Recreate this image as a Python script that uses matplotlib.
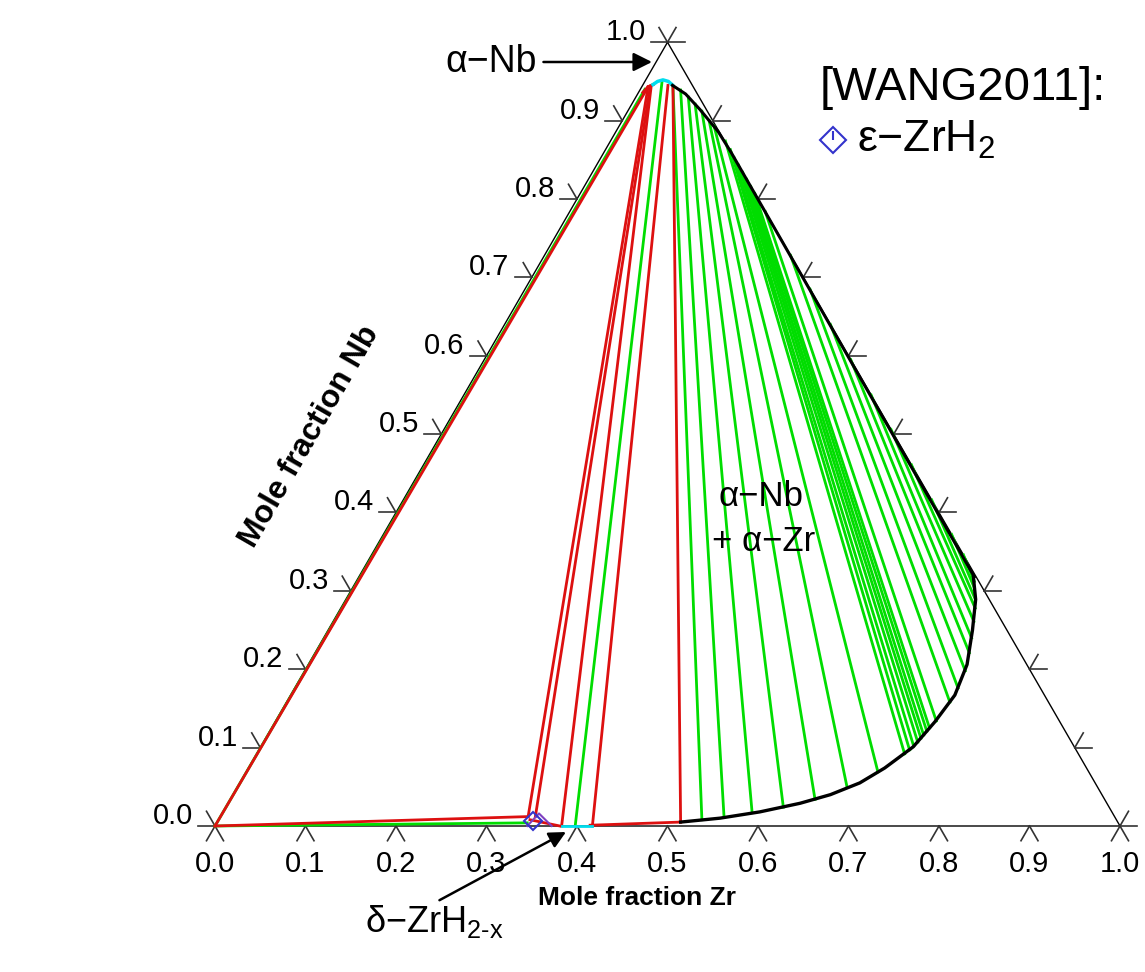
import numpy as np
import matplotlib.pyplot as plt

plt.rcParams['font.family'] = ['Liberation Sans', 'DejaVu Sans']
plt.rcParams['mathtext.fontset'] = 'custom'
plt.rcParams['mathtext.rm'] = 'Liberation Sans'
plt.rcParams['mathtext.it'] = 'Liberation Sans:italic'
plt.rcParams['mathtext.bf'] = 'Liberation Sans:bold'

S3 = np.sqrt(3) / 2

# ---- data (mole fraction Zr, mole fraction Nb) ----
ticks = [0.0, 0.1, 0.2, 0.3, 0.4, 0.5, 0.6, 0.7, 0.8, 0.9, 1.0]

# alpha-Nb corner
anb_red_zr = [0.005, 0.007, 0.011]
anb_red_nb = [0.936, 0.943, 0.946]
anb_cyan_zr = [0.011, 0.014, 0.019, 0.026, 0.032]
anb_cyan_nb = [0.946, 0.950, 0.952, 0.950, 0.946]
# alpha-Nb boundary (down to the Nb-Zr side)
anb_bnd_zr = [0.033, 0.053, 0.079, 0.113, 0.140, 0.680]
anb_bnd_nb = [0.945, 0.934, 0.914, 0.886, 0.860, 0.318]
# alpha-Zr boundary
azr_zr = [0.679, 0.696, 0.712, 0.728, 0.734, 0.729, 0.721, 0.703, 0.685,
          0.660, 0.632, 0.593, 0.553, 0.512]
azr_nb = [0.318, 0.289, 0.250, 0.206, 0.167, 0.133, 0.101, 0.074, 0.055,
          0.040, 0.029, 0.018, 0.010, 0.005]

# red tie lines (start -> end)
red_z0 = [0.007, 0.000, 0.007, 0.009, 0.010, 0.028, 0.034, 0.344, 0.414]
red_n0 = [0.943, 0.000, 0.943, 0.944, 0.944, 0.945, 0.944, 0.008, 0.001]
red_z1 = [0.000, 0.340, 0.340, 0.348, 0.383, 0.417, 0.512, 0.381, 0.512]
red_n1 = [0.000, 0.012, 0.012, 0.012, 0.000, 0.000, 0.005, 0.000, 0.005]

# green tie lines, three-phase side
grn_z0 = [0.005, 0.000, 0.019]
grn_n0 = [0.940, 0.000, 0.950]
grn_z1 = [0.000, 0.343, 0.398]
grn_n1 = [0.000, 0.004, 0.000]

# green tie lines alpha-Nb + alpha-Zr
fan_up_zr = [0.034, 0.045, 0.058, 0.070, 0.082, 0.096, 0.105, 0.127, 0.138,
             0.147, 0.157, 0.166, 0.175, 0.184, 0.193, 0.216, 0.272, 0.315,
             0.360, 0.405, 0.450, 0.494, 0.539, 0.584, 0.628, 0.654]
fan_up_nb = [0.944, 0.939, 0.930, 0.921, 0.912, 0.900, 0.893, 0.874, 0.863,
             0.853, 0.843, 0.834, 0.825, 0.816, 0.807, 0.784, 0.728, 0.685,
             0.640, 0.595, 0.550, 0.506, 0.461, 0.416, 0.372, 0.346]
fan_lo_zr = [0.534, 0.557, 0.585, 0.616, 0.646, 0.674, 0.698, 0.716, 0.719,
             0.721, 0.723, 0.724, 0.725, 0.726, 0.727, 0.730, 0.733, 0.733,
             0.730, 0.723, 0.716, 0.708, 0.701, 0.694, 0.687, 0.683]
fan_lo_nb = [0.008, 0.011, 0.017, 0.024, 0.034, 0.049, 0.069, 0.092, 0.097,
             0.102, 0.107, 0.112, 0.116, 0.121, 0.125, 0.134, 0.158, 0.176,
             0.198, 0.221, 0.240, 0.261, 0.278, 0.291, 0.304, 0.312]

cyan_bot_zr = [0.383, 0.417]
cyan_bot_nb = [0.0, 0.0]

# [WANG2011] eps-ZrH2 point and small triangle
eps_zr, eps_nb = [0.348], [0.006]
tri_zr = [0.345, 0.350, 0.372]
tri_nb = [0.000, 0.016, 0.000]

GREEN = '#00DD00'
RED = '#DD1010'
CYAN = '#00DDEE'
BLUE = '#3333CC'


def tern(zr, nb):
    zr = np.asarray(zr, float)
    nb = np.asarray(nb, float)
    return zr + nb / 2, nb * S3


def px(x, y):
    # figure pixel -> axes data (layout only)
    return (x - 215) / 905, (826 - y) / 905


fig = plt.figure(figsize=(11.45, 9.72), dpi=100)
ax = fig.add_axes([0, 0, 1, 1])
ax.set_xlim(-215 / 905, 930 / 905)
ax.set_ylim(-146 / 905, 826 / 905)
ax.axis('off')

# triangle frame
fx, fy = tern([0, 1, 0, 0], [0, 0, 1, 0])
ax.plot(fx, fy, color='black', lw=1.0, zorder=1)

# ticks
L = 17 / 905
def tick(p, angs):
    for a in angs:
        r = np.radians(a)
        ax.plot([p[0], p[0] + L * np.cos(r)], [p[1], p[1] + L * np.sin(r)],
                color='#333333', lw=1.2, zorder=1)

for t in ticks:
    tick(tern(t, 0), [240, 300])
    tick(tern(0, t), [180, 120])
    tick(tern(1 - t, t), [0, 60])
    bx, by = tern(t, 0)
    ax.text(bx, by - 46 / 905, f'{t:.1f}', ha='center', va='baseline', fontsize=21)
    lx, ly = tern(0, t)
    ax.text(lx - 22 / 905, ly + 2 / 905, f'{t:.1f}', ha='right', va='baseline', fontsize=21)

# tie lines
for z0, n0, z1, n1 in zip(fan_up_zr, fan_up_nb, fan_lo_zr, fan_lo_nb):
    x, y = tern([z0, z1], [n0, n1])
    ax.plot(x, y, color=GREEN, lw=2.0, zorder=2)
for z0, n0, z1, n1 in zip(grn_z0, grn_n0, grn_z1, grn_n1):
    x, y = tern([z0, z1], [n0, n1])
    ax.plot(x, y, color=GREEN, lw=2.0, zorder=2)
for z0, n0, z1, n1 in zip(red_z0, red_n0, red_z1, red_n1):
    x, y = tern([z0, z1], [n0, n1])
    ax.plot(x, y, color=RED, lw=2.0, zorder=3)

# phase boundaries
x, y = tern(anb_red_zr, anb_red_nb)
ax.plot(x, y, color=RED, lw=2.2, zorder=4)
x, y = tern(anb_cyan_zr, anb_cyan_nb)
ax.plot(x, y, color=CYAN, lw=2.5, zorder=4)
x, y = tern(cyan_bot_zr, cyan_bot_nb)
ax.plot(x, y, color=CYAN, lw=2.0, zorder=4)
x, y = tern(anb_bnd_zr, anb_bnd_nb)
ax.plot(x, y, color='black', lw=2.2, zorder=4)
x, y = tern(azr_zr, azr_nb)
ax.plot(x, y, color='black', lw=2.4, zorder=4)

# experimental point
x, y = tern(tri_zr, tri_nb)
ax.plot(x, y, color='#8040C0', lw=1.5, zorder=5)
x, y = tern(eps_zr, eps_nb)
ax.plot(x, y, marker='D', ms=9, mfc='none', mec=BLUE, mew=1.5, ls='none', zorder=6)

# legend
lgx, lgy = px(833, 140)
ax.plot([lgx], [lgy], marker='D', ms=13, mfc='none', mec=BLUE, mew=1.5, zorder=6)
ax.plot([lgx], [lgy], marker=[(0, 0), (0, 1)], ms=13, mec=BLUE, mew=1.5, zorder=6)
ax.text(*px(820, 100), '[WANG2011]:', fontsize=34, ha='left', va='baseline')
ax.text(*px(857, 152), 'ε−ZrH$_2$', fontsize=32, ha='left', va='baseline')

# annotations
ax.annotate('α−Nb', xy=px(652, 62), xytext=px(445, 62), fontsize=27,
            ha='left', va='center',
            arrowprops=dict(arrowstyle='-|>', color='black', lw=1.8,
                            mutation_scale=28, shrinkA=3, shrinkB=0))
ax.annotate('δ−ZrH$_{2\\text{-}\\mathrm{x}}$', xy=px(566, 832), xytext=px(365, 932),
            fontsize=26, ha='left', va='baseline',
            arrowprops=dict(arrowstyle='-|>', color='black', lw=1.8,
                            mutation_scale=25, shrinkA=0, shrinkB=0,
                            relpos=(0.5, 1.0)))
ax.text(*px(718, 506), 'α−Nb', fontsize=25, ha='left', va='baseline')
ax.text(*px(712, 551), '+ α−Zr', fontsize=25, ha='left', va='baseline')

# axis titles
ax.text(*px(637, 898), 'Mole fraction Zr', fontsize=19, fontweight='bold',
        ha='center', va='center')
ax.text(*px(310, 437), 'Mole fraction Nb', fontsize=23, fontweight='bold',
        ha='center', va='center', rotation=60, rotation_mode='anchor')

fig.savefig('out.png', dpi=100, facecolor='white')
